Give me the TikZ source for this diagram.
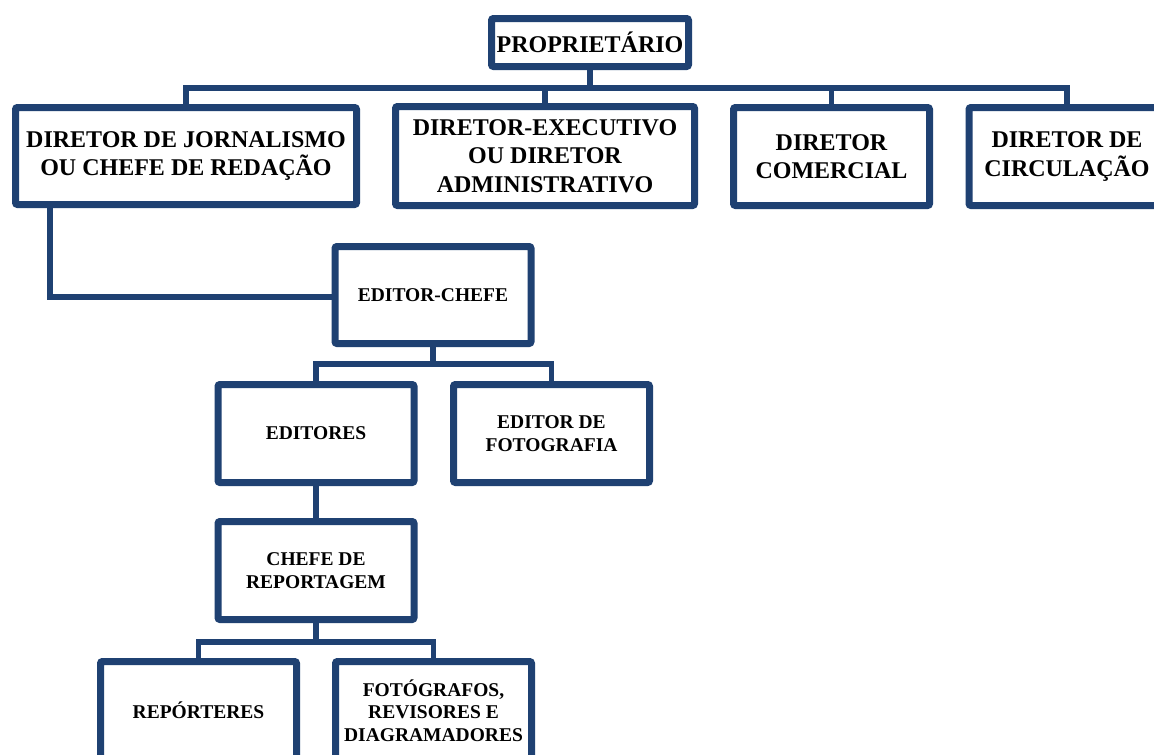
\documentclass[tikz,border=0pt]{standalone}
\usepackage{fontspec}
\setmainfont{Liberation Serif}
\usetikzlibrary{shadows}
\definecolor{navy}{HTML}{1F4172}
\tikzset{
  box/.style={draw=navy,line width=7pt,fill=white,rounded corners=2pt,align=center,inner sep=2pt,
    minimum width=196pt,minimum height=98pt,font=\bfseries\fontsize{19.5}{22.5}\selectfont,
    drop shadow={shadow xshift=2pt,shadow yshift=-2.5pt,opacity=.3}},
  bigbox/.style={box,font=\bfseries\fontsize{24}{28.5}\selectfont},
  conn/.style={navy,line width=5.5pt}
}
\begin{document}
\begin{tikzpicture}[x=1pt,y=-1pt]
\path[use as bounding box,clip] (0,0) rectangle (1154,755);
\fill[white] (0,0) rectangle (1154,755);
\node[bigbox,minimum width=197pt,minimum height=48pt] (prop) at (590,42.5) {PROPRIETÁRIO};
\node[bigbox,minimum width=341pt,minimum height=97pt] (jorn) at (186,156) {DIRETOR DE JORNALISMO\\OU CHEFE DE REDAÇÃO};
\node[bigbox,minimum width=299pt,minimum height=99pt] (exec) at (545,156) {DIRETOR-EXECUTIVO\\OU DIRETOR\\ADMINISTRATIVO};
\node[bigbox] (com) at (831.5,156.5) {DIRETOR\\COMERCIAL};
\node[bigbox] (circ) at (1067,156.5) {DIRETOR DE\\CIRCULAÇÃO};
\node[box,minimum height=97pt] (ec) at (433,295) {EDITOR-CHEFE};
\node[box] (eds) at (316,433.5) {EDITORES};
\node[box] (foto) at (551.5,433.5) {EDITOR DE\\FOTOGRAFIA};
\node[box] (chefe) at (316,570.5) {CHEFE DE\\REPORTAGEM};
\node[box] (rep) at (198.5,710.5) {REPÓRTERES};
\node[box] (fot) at (433.5,710.5) {FOTÓGRAFOS,\\REVISORES E\\DIAGRAMADORES};
\draw[conn] (prop.south) -- ++(0,18) coordinate (bus1);
\foreach \n in {jorn,exec,com,circ} \draw[conn] (bus1) -| (\n.north);
\draw[conn] ([xshift=38pt]jorn.south west) |- ([yshift=-2pt]ec.west);
\draw[conn] (ec.south) -- ++(0,17) coordinate (bus2);
\foreach \n in {eds,foto} \draw[conn] (bus2) -| (\n.north);
\draw[conn] (eds.south) -- (chefe.north);
\draw[conn] (chefe.south) -- ++(0,19) coordinate (bus3);
\foreach \n in {rep,fot} \draw[conn] (bus3) -| (\n.north);
\end{tikzpicture}
\end{document}
